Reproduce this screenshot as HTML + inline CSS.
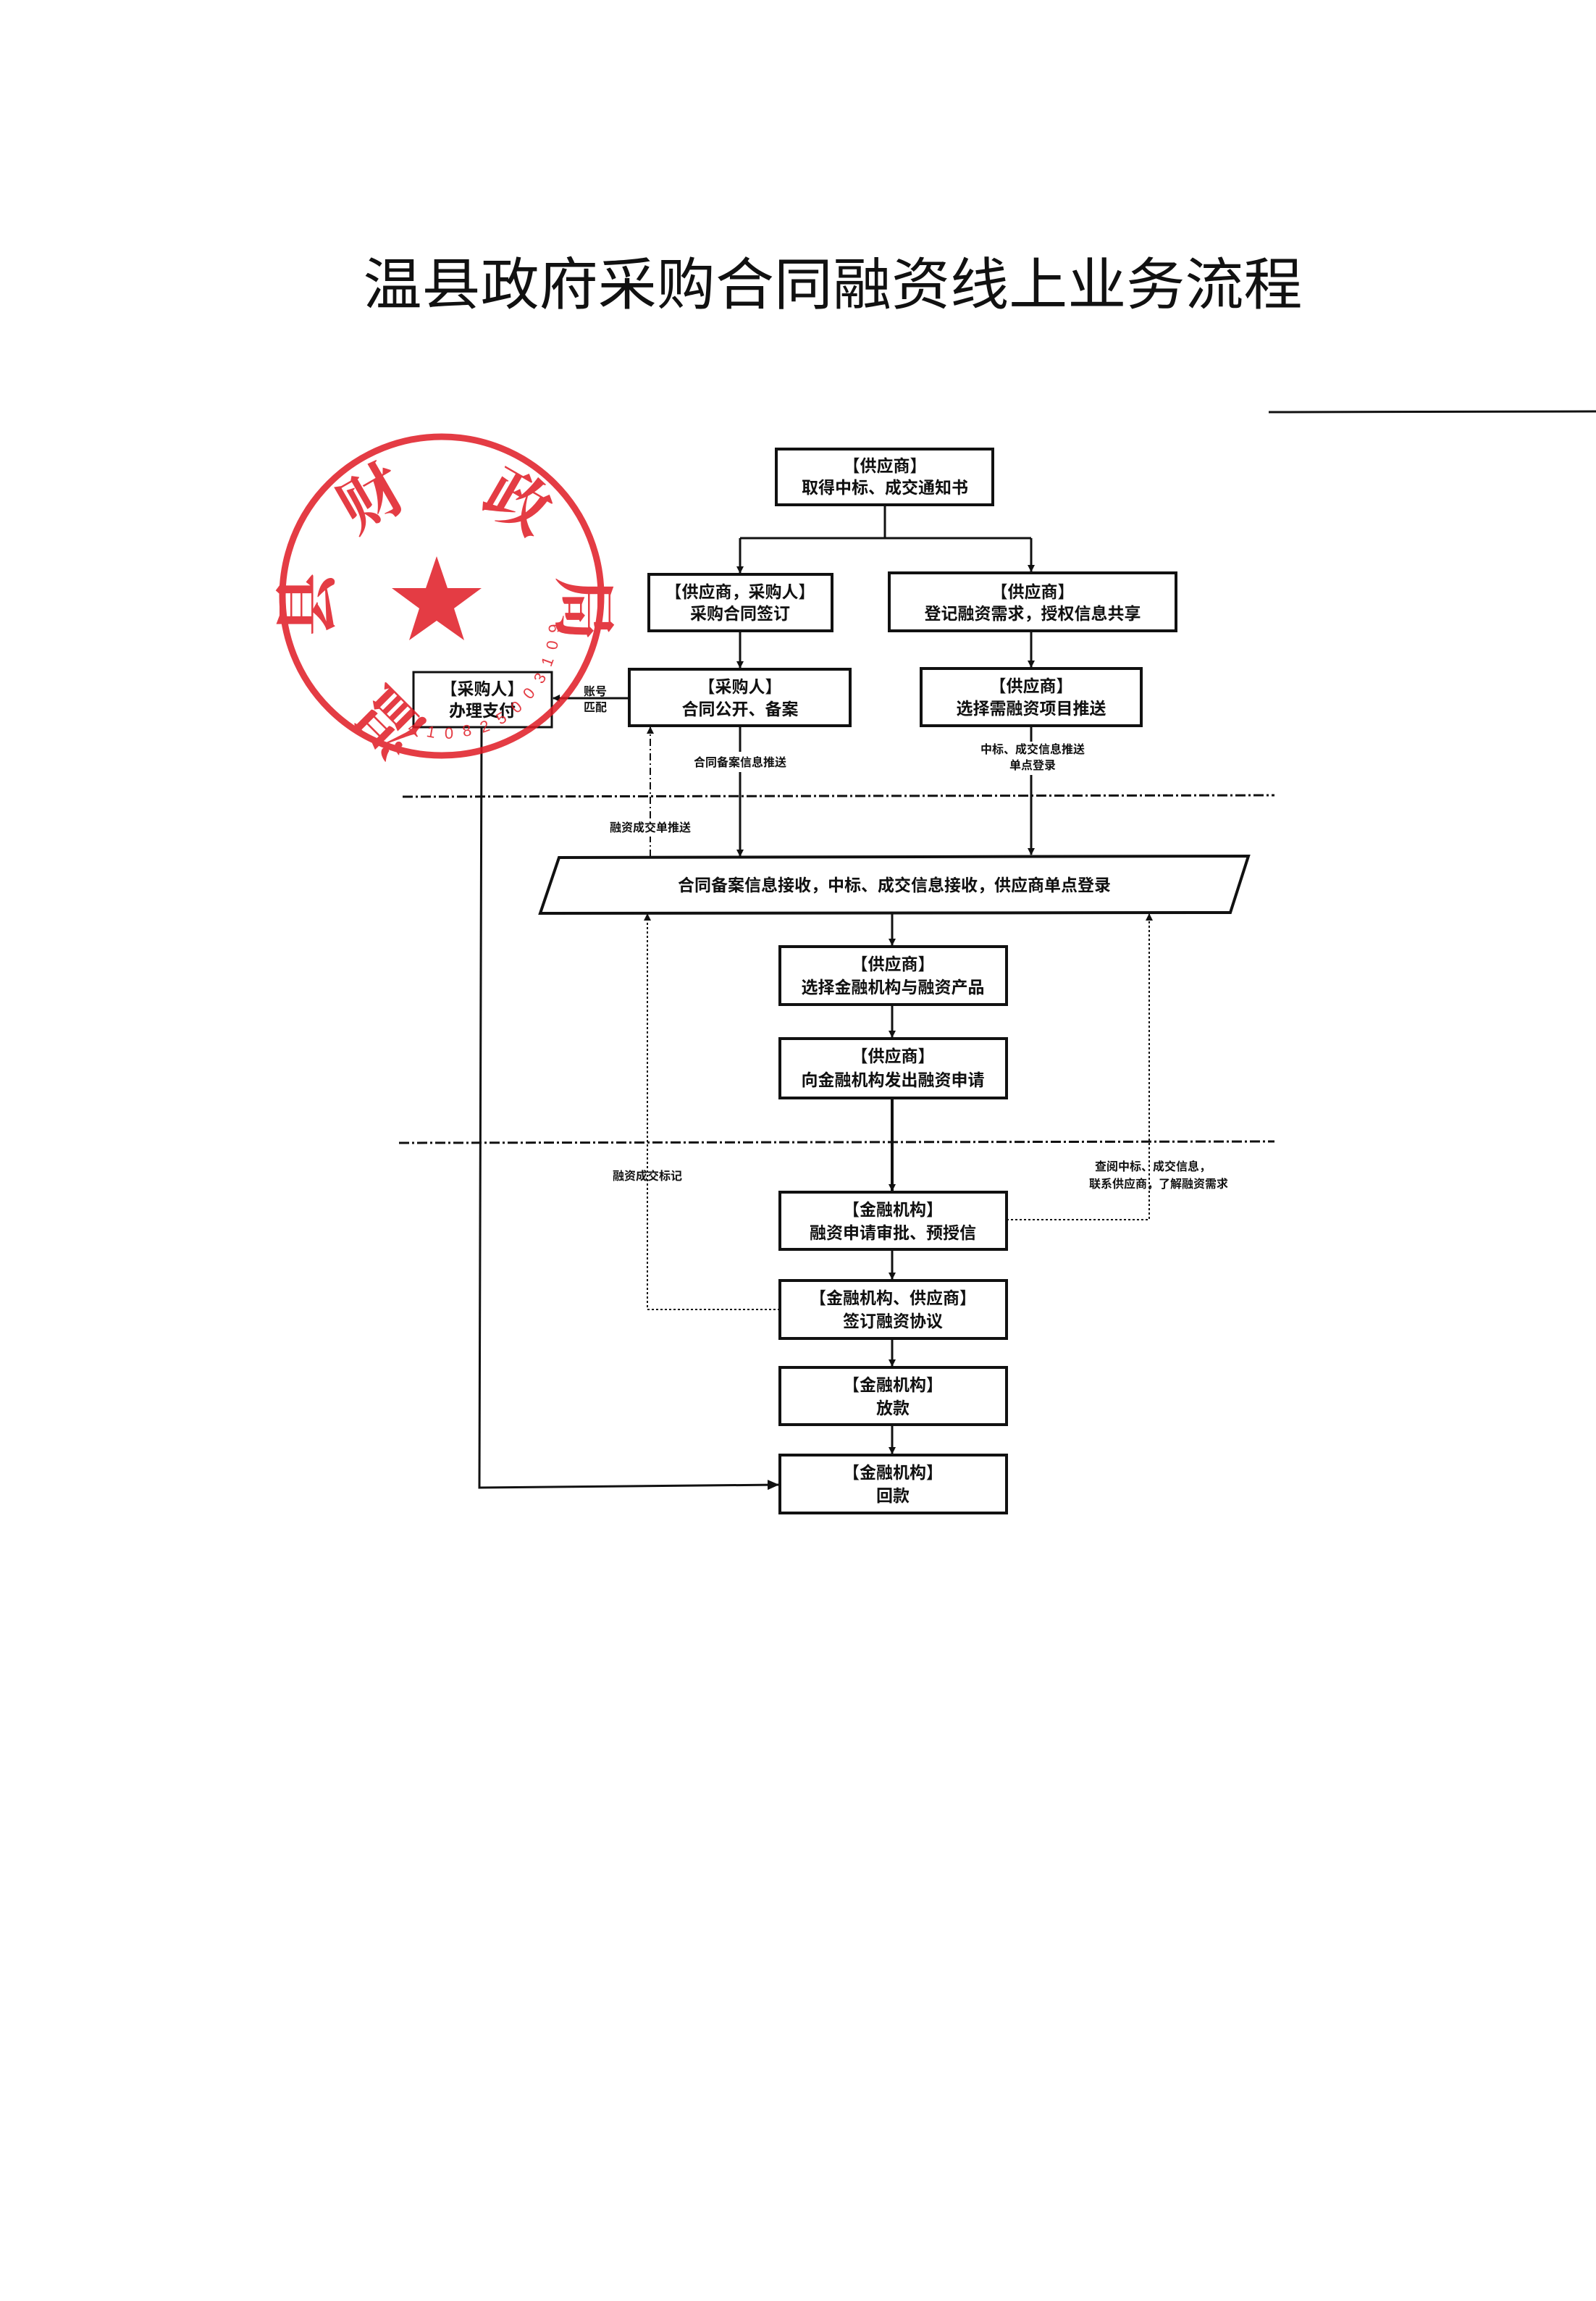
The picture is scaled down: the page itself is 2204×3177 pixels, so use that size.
<!DOCTYPE html>
<html><head><meta charset="utf-8">
<style>
html,body{margin:0;padding:0;background:#fff;}
svg{display:block;}
.t{font-family:"Liberation Sans","Noto Sans CJK SC",sans-serif;font-weight:bold;fill:#111;text-anchor:middle;}
</style></head>
<body>
<svg width="2204" height="3177" viewBox="0 0 2204 3177" xmlns="http://www.w3.org/2000/svg">
<defs>
<marker id="ar" markerWidth="10" markerHeight="10" refX="9" refY="5" orient="auto" markerUnits="userSpaceOnUse">
<path d="M0,0 L10,5 L0,10 z" fill="#111"/></marker>
<marker id="arL" markerWidth="16" markerHeight="14" refX="15" refY="7" orient="auto" markerUnits="userSpaceOnUse">
<path d="M0,0 L16,7 L0,14 z" fill="#111"/></marker>
</defs>
<rect width="2204" height="3177" fill="#fff"/>

<text x="1150" y="420" font-family="'Liberation Sans','Noto Sans CJK SC',sans-serif" font-size="78" fill="#111" text-anchor="middle" textLength="1297" lengthAdjust="spacingAndGlyphs">温县政府采购合同融资线上业务流程</text>
<line x1="1752" y1="569" x2="2204" y2="568" stroke="#111" stroke-width="3"/>

<g stroke="#111" fill="none">
<rect x="1072" y="620" width="299" height="77" stroke-width="4"/>
<rect x="896" y="793" width="253" height="78" stroke-width="4"/>
<rect x="1228" y="791" width="396" height="80" stroke-width="4"/>
<rect x="869" y="924" width="305" height="78" stroke-width="4"/>
<rect x="1272" y="923" width="304" height="79" stroke-width="4"/>
<rect x="571" y="928" width="191" height="76" stroke-width="3"/>
<polygon points="772,1184 1724,1182 1699,1260 746,1261" stroke-width="4"/>
<rect x="1077" y="1307" width="313" height="80" stroke-width="4"/>
<rect x="1077" y="1434" width="313" height="82" stroke-width="4"/>
<rect x="1077" y="1646" width="313" height="79" stroke-width="4"/>
<rect x="1077" y="1768" width="313" height="80" stroke-width="4"/>
<rect x="1077" y="1888" width="313" height="79" stroke-width="4"/>
<rect x="1077" y="2009" width="313" height="80" stroke-width="4"/>

<line x1="1222" y1="697" x2="1222" y2="743" stroke-width="3"/>
<line x1="1022" y1="743" x2="1424" y2="743" stroke-width="3"/>
<line x1="1022" y1="743" x2="1022" y2="791" stroke-width="3" marker-end="url(#ar)"/>
<line x1="1424" y1="743" x2="1424" y2="789" stroke-width="3" marker-end="url(#ar)"/>
<line x1="1022" y1="871" x2="1022" y2="922" stroke-width="3" marker-end="url(#ar)"/>
<line x1="1424" y1="871" x2="1424" y2="921" stroke-width="3" marker-end="url(#ar)"/>
<line x1="869" y1="964" x2="764" y2="964" stroke-width="3" marker-end="url(#ar)"/>
<line x1="1022" y1="1002" x2="1022" y2="1038" stroke-width="3"/>
<line x1="1022" y1="1066" x2="1022" y2="1182" stroke-width="3" marker-end="url(#ar)"/>
<line x1="1424" y1="1002" x2="1424" y2="1024" stroke-width="3"/>
<line x1="1424" y1="1070" x2="1424" y2="1180" stroke-width="3" marker-end="url(#ar)"/>
<line x1="898" y1="1183" x2="898" y2="1155" stroke-width="2" stroke-dasharray="10,4,2,4"/>
<line x1="898" y1="1130" x2="898" y2="1004" stroke-width="2" stroke-dasharray="10,4,2,4" marker-end="url(#ar)"/>
<line x1="1232" y1="1260" x2="1232" y2="1305" stroke-width="3" marker-end="url(#ar)"/>
<line x1="1232" y1="1387" x2="1232" y2="1432" stroke-width="3" marker-end="url(#ar)"/>
<line x1="1232" y1="1516" x2="1232" y2="1644" stroke-width="4" marker-end="url(#ar)"/>
<line x1="1232" y1="1725" x2="1232" y2="1766" stroke-width="3" marker-end="url(#ar)"/>
<line x1="1232" y1="1848" x2="1232" y2="1886" stroke-width="3" marker-end="url(#ar)"/>
<line x1="1232" y1="1967" x2="1232" y2="2007" stroke-width="3" marker-end="url(#ar)"/>

<polyline points="665,1004 662,2054 1075,2050" stroke-width="3" marker-end="url(#arL)"/>
<polyline points="1077,1808 894,1808 894,1262" stroke-width="2" stroke-dasharray="3,3" marker-end="url(#ar)"/>
<polyline points="1390,1684 1587,1684 1587,1262" stroke-width="2" stroke-dasharray="3,3" marker-end="url(#ar)"/>

<line x1="556" y1="1100" x2="1760" y2="1098" stroke-width="3" stroke-dasharray="14,4,3,4"/>
<line x1="551" y1="1578" x2="1760" y2="1576" stroke-width="3" stroke-dasharray="14,4,3,4"/>
</g>

<g class="t" font-size="23">
<text x="1222" y="651">【供应商】</text>
<text x="1222" y="681">取得中标、成交通知书</text>
<text x="1022" y="825">【供应商，采购人】</text>
<text x="1022" y="855">采购合同签订</text>
<text x="1426" y="825">【供应商】</text>
<text x="1426" y="855">登记融资需求，授权信息共享</text>
<text x="1022" y="956">【采购人】</text>
<text x="1022" y="987">合同公开、备案</text>
<text x="1424" y="955">【供应商】</text>
<text x="1424" y="986">选择需融资项目推送</text>
<text x="666" y="959">【采购人】</text>
<text x="666" y="989">办理支付</text>
<text x="1235" y="1230">合同备案信息接收，中标、成交信息接收，供应商单点登录</text>
<text x="1233" y="1339">【供应商】</text>
<text x="1233" y="1371">选择金融机构与融资产品</text>
<text x="1233" y="1466">【供应商】</text>
<text x="1233" y="1499">向金融机构发出融资申请</text>
<text x="1233" y="1678">【金融机构】</text>
<text x="1233" y="1710">融资申请审批、预授信</text>
<text x="1233" y="1800">【金融机构、供应商】</text>
<text x="1233" y="1832">签订融资协议</text>
<text x="1233" y="1920">【金融机构】</text>
<text x="1233" y="1952">放款</text>
<text x="1233" y="2041">【金融机构】</text>
<text x="1233" y="2073">回款</text>
</g>
<g class="t" font-size="16">
<text x="822" y="960">账号</text>
<text x="822" y="982">匹配</text>
<text x="1022" y="1058">合同备案信息推送</text>
<text x="1426" y="1040">中标、成交信息推送</text>
<text x="1426" y="1062">单点登录</text>
<text x="898" y="1148">融资成交单推送</text>
<text x="894" y="1629">融资成交标记</text>
<text x="1592" y="1616">查阅中标、成交信息，</text>
<text x="1600" y="1640">联系供应商，了解融资需求</text>
</g>

<g opacity="0.85">
<circle cx="610" cy="823" r="220" fill="none" stroke="#e01b24" stroke-width="9"/>
<polygon points="603,768 618,812 665,812 627,840 641,884 603,857 565,884 579,840 541,812 588,812" fill="#e01b24"/>
<g font-family="'Noto Serif CJK SC','Noto Sans CJK SC',serif" font-weight="bold" font-size="88" fill="#e01b24" text-anchor="middle">
<text transform="translate(560,975) rotate(-135)">温</text>
<text transform="translate(455,835) rotate(-90)">县</text>
<text transform="translate(528,715) rotate(-30)">财</text>
<text transform="translate(700,720) rotate(30)">政</text>
<text transform="translate(775,840) rotate(90)">局</text>
</g>
<g font-family="'Liberation Sans',sans-serif" font-size="22" fill="#e01b24" text-anchor="middle">
<text transform="translate(568,1012) rotate(20)">4</text>
<text transform="translate(594,1018) rotate(10)">1</text>
<text transform="translate(620,1020) rotate(0)">0</text>
<text transform="translate(646,1016) rotate(-10)">8</text>
<text transform="translate(672,1010) rotate(-20)">2</text>
<text transform="translate(696,998) rotate(-30)">5</text>
<text transform="translate(718,982) rotate(-40)">0</text>
<text transform="translate(736,962) rotate(-50)">0</text>
<text transform="translate(752,940) rotate(-60)">3</text>
<text transform="translate(763,916) rotate(-70)">1</text>
<text transform="translate(770,892) rotate(-80)">0</text>
<text transform="translate(773,868) rotate(-88)">9</text>
</g>
</g>
</svg>
</body></html>
